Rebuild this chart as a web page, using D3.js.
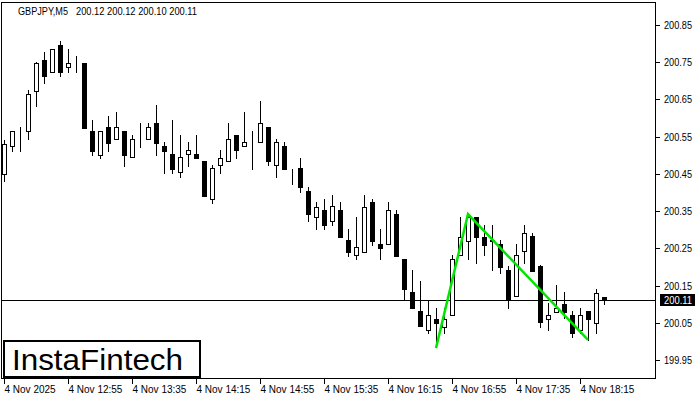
<!DOCTYPE html>
<html><head><meta charset="utf-8">
<script src="https://cdn.jsdelivr.net/npm/d3@7"></script>
<style>
html,body{margin:0;padding:0;background:#fff;}
svg{display:block;}
text{font-family:"Liberation Sans",Arial,sans-serif;}
</style></head>
<body>
<svg id="chart" width="700" height="400"></svg>
<script>
const symbolTitle = "GBPJPY,M5";
const headerValues = "200.12 200.12 200.10 200.11";
const opens = [200.45,200.525,200.553,200.564,200.673,200.756,200.725,200.796,200.736,200.736,
200.748,200.565,200.502,200.576,200.543,200.564,200.495,200.554,200.543,200.587,
200.525,200.503,200.454,200.503,200.503,200.485,200.382,200.473,200.484,200.554,
200.524,200.523,200.535,200.575,200.473,200.524,200.454,200.466,200.403,200.333,
200.352,200.323,200.352,200.272,200.231,200.241,200.374,200.261,200.261,200.341,
200.220,200.132,200.082,200.031,200.060,200.039,200.070,200.231,200.270,200.333,
200.281,200.272,200.262,200.192,200.122,200.242,200.283,200.203,200.059,200.080,
200.100,200.071,200.031,200.082,200.050,200.12];
const highs = [200.54,200.565,200.575,200.675,200.750,200.777,200.786,200.807,200.786,200.767,
200.748,200.596,200.564,200.605,200.616,200.564,200.554,200.587,200.587,200.635,
200.536,200.595,200.554,200.536,200.554,200.485,200.474,200.514,200.587,200.554,
200.616,200.564,200.646,200.575,200.544,200.535,200.464,200.494,200.414,200.374,
200.382,200.392,200.374,200.303,200.333,200.392,200.382,200.303,200.374,200.352,
200.220,200.192,200.163,200.111,200.091,200.091,200.231,200.333,200.342,200.333,
200.313,200.313,200.272,200.203,200.262,200.313,200.292,200.205,200.102,200.152,
200.133,200.082,200.091,200.082,200.140,200.12];
const lows = [200.43,200.511,200.512,200.543,200.632,200.695,200.725,200.714,200.725,200.725,
200.574,200.502,200.494,200.512,200.543,200.471,200.495,200.523,200.543,200.502,
200.453,200.453,200.442,200.471,200.494,200.391,200.373,200.453,200.484,200.494,
200.524,200.464,200.535,200.473,200.442,200.464,200.422,200.402,200.323,200.303,
200.303,200.312,200.281,200.229,200.220,200.241,200.260,200.220,200.261,200.230,
200.111,200.090,200.040,200.022,199.985,200.022,200.070,200.231,200.220,200.211,
200.232,200.191,200.183,200.091,200.122,200.211,200.190,200.039,200.031,200.080,
200.062,200.013,200.022,200.005,200.022,200.10];
const closes = [200.53,200.565,200.553,200.665,200.748,200.714,200.786,200.725,200.748,200.736,
200.574,200.512,200.564,200.534,200.576,200.502,200.543,200.554,200.575,200.534,
200.512,200.464,200.495,200.513,200.494,200.391,200.465,200.494,200.543,200.513,
200.535,200.523,200.586,200.484,200.535,200.464,200.454,200.414,200.341,200.362,
200.312,200.363,200.281,200.241,200.253,200.362,200.270,200.252,200.352,200.230,
200.140,200.090,200.040,200.070,200.050,200.060,200.220,200.281,200.333,200.281,
200.259,200.270,200.201,200.111,200.232,200.292,200.190,200.051,200.070,200.089,
200.080,200.022,200.070,200.059,200.131,200.11];
const priceTicks = [200.85,200.75,200.65,200.55,200.45,200.35,200.25,200.15,200.05,199.95];
const timeTickIdx = [0,8,16,24,32,40,48,56,64,72];
const timeTickLabels = ["4 Nov 2025","4 Nov 12:55","4 Nov 13:35","4 Nov 14:15","4 Nov 14:55","4 Nov 15:35","4 Nov 16:15","4 Nov 16:55","4 Nov 17:35","4 Nov 18:15"];
const currentPrice = 200.11;
const patternIdx = [54, 58, 73];
const patternPrice = [199.982, 200.342, 200.004];

const svg = d3.select("#chart");
const frame = {l:1.5, t:2.5, r:655.5, b:378.5};
const x = d3.scaleLinear().domain([0, 75]).range([4, 604]);
const y = d3.scaleLinear().domain([199.95, 200.85]).range([360, 25]);
const n = opens.length;
const data = d3.range(n).map(i => ({i, o:opens[i], h:highs[i], l:lows[i], c:closes[i]}));

svg.append("rect").attr("x",frame.l).attr("y",frame.t)
  .attr("width",frame.r-frame.l).attr("height",frame.b-frame.t)
  .attr("fill","#fff").attr("stroke","#000").attr("stroke-width",1);

svg.append("text").attr("x",18).attr("y",15).attr("font-size",10).attr("fill","#000")
  .attr("textLength",50).attr("lengthAdjust","spacingAndGlyphs").text(symbolTitle);
svg.append("text").attr("x",76).attr("y",15).attr("font-size",10).attr("fill","#000")
  .attr("textLength",121).attr("lengthAdjust","spacingAndGlyphs").text(headerValues);

svg.append("line").attr("x1",frame.l).attr("x2",frame.r)
  .attr("y1",Math.round(y(currentPrice))+0.5).attr("y2",Math.round(y(currentPrice))+0.5)
  .attr("stroke","#000").attr("stroke-width",1);

const cx = d => Math.round(x(d.i)) + 0.5;
const g = svg.append("g").attr("shape-rendering","crispEdges");
g.selectAll("line.wick").data(data).join("line").attr("class","wick")
  .attr("x1",cx).attr("x2",cx)
  .attr("y1",d=>Math.round(y(d.h))).attr("y2",d=>Math.round(y(d.l))+1)
  .attr("stroke","#000").attr("stroke-width",1);
g.selectAll("rect.body").data(data).join("rect").attr("class","body")
  .attr("x",d=>cx(d)-2).attr("width",4)
  .attr("y",d=>Math.round(y(Math.max(d.o,d.c)))+0.5)
  .attr("height",d=>Math.max(0, Math.round(y(Math.min(d.o,d.c))) - Math.round(y(Math.max(d.o,d.c)))))
  .attr("fill",d=> d.c < d.o ? "#000" : "#fff")
  .attr("stroke","#000").attr("stroke-width",1);

svg.append("path")
  .attr("d", d3.line().x((d,k)=>x(patternIdx[k])).y((d,k)=>y(patternPrice[k]))(patternIdx))
  .attr("fill","none").attr("stroke","#00e600").attr("stroke-width",2.5)
  .attr("stroke-linejoin","miter");

const pa = svg.append("g");
priceTicks.forEach(p => {
  const yy = Math.round(y(p)) + 0.5;
  pa.append("line").attr("x1",frame.r).attr("x2",frame.r+4).attr("y1",yy).attr("y2",yy)
    .attr("stroke","#000").attr("shape-rendering","crispEdges");
  pa.append("text").attr("x",664).attr("y",yy+3.5).attr("font-size",10).attr("fill","#000")
    .attr("textLength",28).attr("lengthAdjust","spacingAndGlyphs").text(p.toFixed(2));
});
const cy = Math.round(y(currentPrice));
pa.append("rect").attr("x",660).attr("y",cy-6).attr("width",35).attr("height",12).attr("fill","#000");
pa.append("text").attr("x",664).attr("y",cy+4).attr("font-size",10).attr("fill","#fff")
  .attr("textLength",28).attr("lengthAdjust","spacingAndGlyphs").text(currentPrice.toFixed(2));

const ta = svg.append("g");
timeTickIdx.forEach((idx,k) => {
  const xx = Math.round(x(idx)) + 0.5;
  ta.append("line").attr("x1",xx).attr("x2",xx).attr("y1",frame.b).attr("y2",frame.b+5)
    .attr("stroke","#000").attr("shape-rendering","crispEdges");
  ta.append("text").attr("x",xx).attr("y",393).attr("font-size",10).attr("fill","#000").text(timeTickLabels[k]);
});

svg.append("rect").attr("x",4).attr("y",341).attr("width",196).attr("height",36)
  .attr("fill","#fff").attr("stroke","#000").attr("stroke-width",2);
svg.append("text").attr("x",12).attr("y",370).attr("font-size",29)
  .attr("font-family","'Open Sans',sans-serif").attr("fill","#000")
  .attr("textLength",171).attr("lengthAdjust","spacingAndGlyphs").text("InstaFintech");
</script>
</body></html>
